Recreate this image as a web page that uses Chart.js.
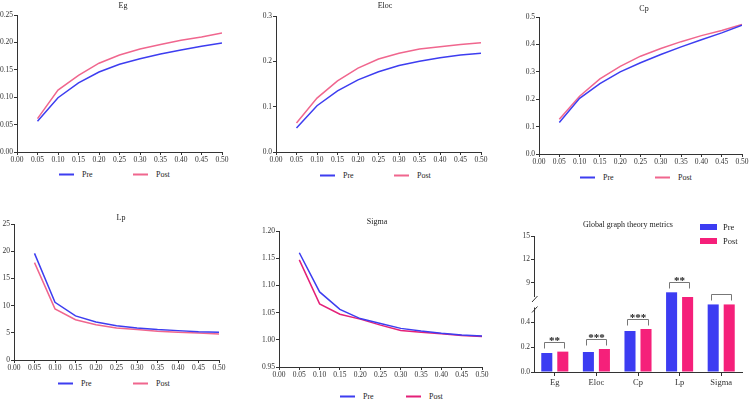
<!DOCTYPE html>
<html>
<head>
<meta charset="utf-8">
<script src="https://cdn.jsdelivr.net/npm/chart.js@4.4.0/dist/chart.umd.min.js"></script>
<style>
body{margin:0;background:#fff;width:750px;height:399px;overflow:hidden;position:relative;font-family:"Liberation Serif","Times New Roman",serif;color:#222;}
canvas{position:absolute;}
.ttl{position:absolute;font-size:8px;transform:translate(-50%,-50%);white-space:nowrap;}
.lgd{position:absolute;font-size:8px;display:flex;transform:translateY(-50%);}
.lgd .it{display:flex;align-items:center;}
.lgd .ln{width:15px;height:2px;margin-right:8px;}
.blg{position:absolute;font-size:8.5px;}
.blg .it{display:flex;align-items:center;height:14px;}
.blg .bx{width:17px;height:6px;margin-right:6px;}
</style>
</head>
<body>
<canvas id="cEg" width="232" height="166" style="left:0;top:0" data-pt="15" data-pr="10" data-yw="17"></canvas>
<canvas id="cEloc" width="241" height="166" style="left:250px;top:0" data-pt="16" data-pr="10" data-yw="26"></canvas>
<canvas id="cCp" width="237" height="168" style="left:513px;top:0" data-pt="17" data-pr="8" data-yw="26"></canvas>
<canvas id="cLp" width="229" height="164" style="left:0;top:210px" data-pt="14" data-pr="10" data-yw="14"></canvas>
<canvas id="cSigma" width="241" height="164" style="left:251px;top:217px" data-pt="14" data-pr="10" data-yw="28"></canvas>
<canvas id="cBar" width="244" height="166" style="left:506px;top:222px"></canvas>

<div class="ttl" style="left:123px;top:5px">Eg</div>
<div class="ttl" style="left:385px;top:5px">Eloc</div>
<div class="ttl" style="left:644px;top:8px">Cp</div>
<div class="ttl" style="left:121px;top:217px">Lp</div>
<div class="ttl" style="left:377px;top:221px">Sigma</div>
<div class="ttl" style="left:628px;top:224px">Global graph theory metrics</div>

<div class="lgd" id="lEg" style="left:59px;top:174px"></div>
<div class="lgd" id="lEloc" style="left:320px;top:175px"></div>
<div class="lgd" id="lCp" style="left:580px;top:177px"></div>
<div class="lgd" id="lLp" style="left:58px;top:383px"></div>
<div class="lgd" id="lSigma" style="left:340px;top:396px"></div>
<div class="blg" id="lBar" style="left:700px;top:220px"></div>

<script>
// thresholds (sparsity)
var xVals = [0.05, 0.10, 0.15, 0.20, 0.25, 0.30, 0.35, 0.40, 0.45, 0.50];
var xTicks = [0, 0.05, 0.10, 0.15, 0.20, 0.25, 0.30, 0.35, 0.40, 0.45, 0.50];

var egPre  = [0.056, 0.099, 0.126, 0.146, 0.160, 0.170, 0.179, 0.186, 0.193, 0.199];
var egPost = [0.061, 0.113, 0.140, 0.162, 0.177, 0.188, 0.196, 0.204, 0.210, 0.217];
var egTicks = [0, 0.05, 0.10, 0.15, 0.20, 0.25];

var elocPre  = [0.053, 0.102, 0.135, 0.159, 0.177, 0.191, 0.200, 0.208, 0.214, 0.218];
var elocPost = [0.064, 0.119, 0.157, 0.185, 0.205, 0.218, 0.227, 0.232, 0.237, 0.241];
var elocTicks = [0, 0.1, 0.2, 0.3];

var cpPre  = [0.115, 0.203, 0.257, 0.300, 0.333, 0.363, 0.391, 0.417, 0.442, 0.470];
var cpPost = [0.127, 0.211, 0.274, 0.320, 0.357, 0.385, 0.410, 0.432, 0.451, 0.473];
var cpTicks = [0, 0.1, 0.2, 0.3, 0.4, 0.5];

var lpPre  = [19.6, 10.6, 8.1, 7.0, 6.3, 5.9, 5.6, 5.4, 5.2, 5.1];
var lpPost = [17.9, 9.4, 7.4, 6.5, 5.9, 5.6, 5.3, 5.1, 4.95, 4.8];
var lpTicks = [0, 5, 10, 15, 20, 25];

var sigmaPre  = [1.160, 1.088, 1.056, 1.039, 1.030, 1.021, 1.016, 1.012, 1.009, 1.007];
var sigmaPost = [1.147, 1.066, 1.047, 1.038, 1.027, 1.017, 1.014, 1.011, 1.008, 1.006];
var sigmaTicks = [0.95, 1.00, 1.05, 1.10, 1.15, 1.20];

// global metrics bar chart
var barLabels = ['Eg', 'Eloc', 'Cp', 'Lp', 'Sigma'];
var barPre  = [0.152, 0.160, 0.328, 7.8, 1.04];
var barPost = [0.163, 0.184, 0.344, 7.2, 1.04];
var barStars = ['**', '***', '***', '**', ''];
var barTickVals = [0, 0.2, 0.4, 9, 12, 15];
var barTickText = ['0.0', '0.2', '0.4', '9', '12', '15'];

// broken y axis: value -> display coordinate
var brkKnots = [[0, 0], [0.5, 62.5], [1.3, 70], [7.2, 75], [15, 136]];
function toDisp(v){
    for (var i = 1; i < brkKnots.length; i++){
        var a = brkKnots[i-1], b = brkKnots[i];
        if (v <= b[0]) return a[1] + (v - a[0]) / (b[0] - a[0]) * (b[1] - a[1]);
    }
    return brkKnots[brkKnots.length-1][1];
}

Chart.defaults.font.family = '"Liberation Serif", "Times New Roman", serif';
Chart.defaults.color = '#333';

var colPre = '#3d3df0';
var colPost = '#f0668e';
var colPostDark = '#e42078';
var axisCol = '#333';
var tickFont = {family: '"Liberation Serif", "Times New Roman", serif', size: 7.5};

function pts(arr){
    return xVals.map(function(x, i){ return {x: x, y: arr[i]}; });
}

function lineChart(id, pre, post, yTicks, dec, postColor){
    var el = document.getElementById(id);
    var yw = +el.dataset.yw;
    return new Chart(el, {
        type: 'line',
        data: {
            datasets: [
                {label: 'Pre', data: pts(pre), borderColor: colPre, borderWidth: 1.5, pointRadius: 0, tension: 0, fill: false},
                {label: 'Post', data: pts(post), borderColor: postColor, borderWidth: 1.5, pointRadius: 0, tension: 0, fill: false}
            ]
        },
        options: {
            responsive: false,
            animation: false,
            layout: {padding: {top: +el.dataset.pt, right: +el.dataset.pr, left: 0, bottom: 0}},
            plugins: {legend: {display: false}, tooltip: {enabled: false}},
            scales: {
                x: {
                    type: 'linear', min: 0, max: 0.5,
                    afterBuildTicks: function(a){ a.ticks = xTicks.map(function(v){ return {value: v}; }); },
                    afterFit: function(s){ s.height = 14; },
                    grid: {drawOnChartArea: false, tickLength: 3, color: axisCol},
                    border: {color: axisCol},
                    ticks: {callback: function(v){ return v.toFixed(2); }, font: tickFont, color: '#333', padding: 1, maxRotation: 0, autoSkip: false}
                },
                y: {
                    min: yTicks[0], max: yTicks[yTicks.length-1],
                    afterBuildTicks: function(a){ a.ticks = yTicks.map(function(v){ return {value: v}; }); },
                    afterFit: function(s){ s.width = yw; },
                    grid: {drawOnChartArea: false, tickLength: 3, color: axisCol},
                    border: {color: axisCol},
                    ticks: {callback: function(v){ return v.toFixed(dec); }, font: tickFont, color: '#333', padding: 1}
                }
            }
        }
    });
}

function drawLegend(chart, boxId, gap){
    var html = '';
    chart.data.datasets.forEach(function(ds){
        html += '<div class="it" style="width:' + gap + 'px"><span class="ln" style="background:' + ds.borderColor + '"></span>' + ds.label + '</div>';
    });
    document.getElementById(boxId).innerHTML = html;
}

var chEg = lineChart('cEg', egPre, egPost, egTicks, 2, colPost);
var chEloc = lineChart('cEloc', elocPre, elocPost, elocTicks, 1, colPost);
var chCp = lineChart('cCp', cpPre, cpPost, cpTicks, 1, colPost);
var chLp = lineChart('cLp', lpPre, lpPost, lpTicks, 0, colPost);
var chSigma = lineChart('cSigma', sigmaPre, sigmaPost, sigmaTicks, 2, colPostDark);
drawLegend(chEg, 'lEg', 74);
drawLegend(chEloc, 'lEloc', 74);
drawLegend(chCp, 'lCp', 75);
drawLegend(chLp, 'lLp', 75);
drawLegend(chSigma, 'lSigma', 66);

var brokenAxis = {
    id: 'brokenAxis',
    afterDraw: function(chart){
        var c = chart.ctx, ys = chart.scales.y, x = chart.chartArea.left + 0.5;
        var yLow = ys.getPixelForValue(toDisp(0.5)) - 2;
        var yUp = ys.getPixelForValue(toDisp(7.2));
        c.save();
        c.strokeStyle = axisCol; c.lineWidth = 1;
        c.beginPath();
        c.moveTo(x, ys.bottom); c.lineTo(x, yLow);
        c.moveTo(x, yUp); c.lineTo(x, ys.top);
        c.moveTo(x - 2.5, yUp + 5); c.lineTo(x + 3, yUp - 1);
        c.moveTo(x - 2.5, yLow + 5); c.lineTo(x + 3, yLow - 1);
        c.stroke();
        c.restore();
    }
};

var brackets = {
    id: 'brackets',
    afterDatasetsDraw: function(chart){
        var c = chart.ctx, m0 = chart.getDatasetMeta(0), m1 = chart.getDatasetMeta(1);
        c.save();
        c.strokeStyle = '#777'; c.lineWidth = 1;
        c.fillStyle = '#222';
        c.font = 'bold 11px "Liberation Serif", serif';
        c.textAlign = 'center'; c.textBaseline = 'alphabetic';
        barStars.forEach(function(s, i){
            var a = m0.data[i], b = m1.data[i];
            var x1 = Math.round(a.x - 2.5) + 0.5, x2 = Math.round(b.x + 1.5) + 0.5;
            var y = Math.round(Math.min(a.y, b.y) - 10) + 0.5;
            c.beginPath();
            c.moveTo(x1, y + 6); c.lineTo(x1, y); c.lineTo(x2, y); c.lineTo(x2, y + 6);
            c.stroke();
            if (s) c.fillText(s, (x1 + x2) / 2, y + 1);
        });
        c.restore();
    }
};

var chBar = new Chart(document.getElementById('cBar'), {
    type: 'bar',
    data: {
        labels: barLabels,
        datasets: [
            {label: 'Pre', data: barPre.map(toDisp), backgroundColor: '#3c3cf2', categoryPercentage: 0.77, barPercentage: 0.69},
            {label: 'Post', data: barPost.map(toDisp), backgroundColor: '#f5207a', categoryPercentage: 0.77, barPercentage: 0.69}
        ]
    },
    options: {
        responsive: false,
        animation: false,
        layout: {padding: {top: 14, right: 8, left: 0, bottom: 0}},
        plugins: {legend: {display: false}, tooltip: {enabled: false}},
        scales: {
            x: {
                afterFit: function(s){ s.height = 16; },
                grid: {drawOnChartArea: false, offset: false, tickLength: 4, color: axisCol},
                border: {color: axisCol},
                ticks: {font: {family: '"Liberation Serif", "Times New Roman", serif', size: 8.5}, color: '#333', padding: 2}
            },
            y: {
                min: 0, max: toDisp(15),
                afterBuildTicks: function(a){ a.ticks = barTickVals.map(function(v){ return {value: toDisp(v)}; }); },
                afterFit: function(s){ s.width = 28; },
                grid: {drawOnChartArea: false, tickLength: 3, color: axisCol},
                border: {display: false},
                ticks: {callback: function(v, i){ return barTickText[i]; }, font: tickFont, color: '#333', padding: 1}
            }
        }
    },
    plugins: [brokenAxis, brackets]
});

var bl = '';
chBar.data.datasets.forEach(function(ds){
    bl += '<div class="it"><span class="bx" style="background:' + ds.backgroundColor + '"></span>' + ds.label + '</div>';
});
document.getElementById('lBar').innerHTML = bl;
</script>
</body>
</html>
